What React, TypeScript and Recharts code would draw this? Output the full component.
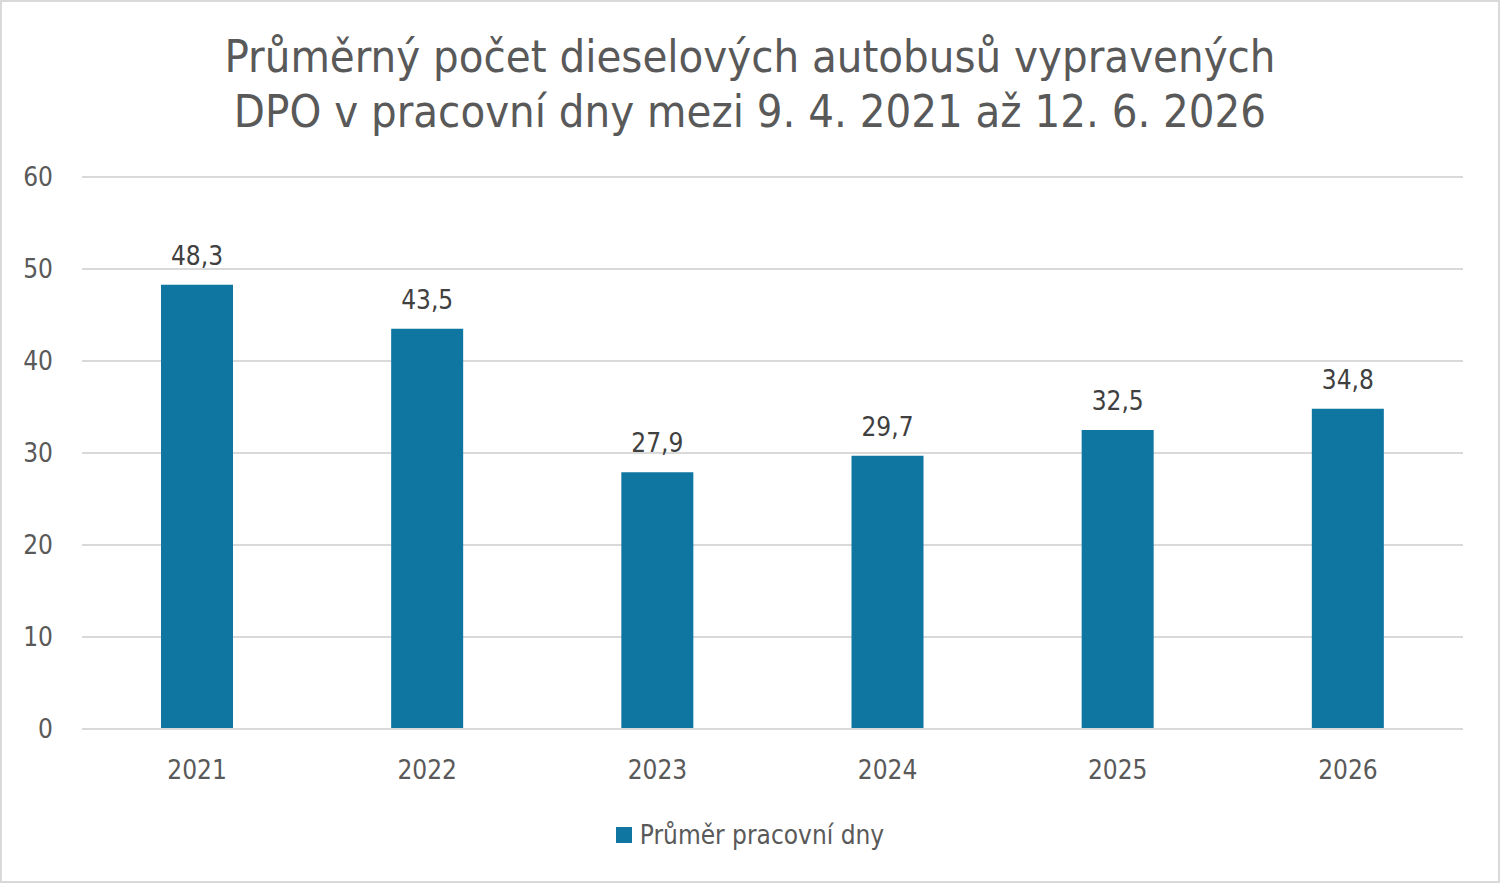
import { BarChart, Bar, XAxis, YAxis, CartesianGrid, LabelList } from "recharts";

const years = ["2021", "2022", "2023", "2024", "2025", "2026"];
const averages = [48.3, 43.5, 27.9, 29.7, 32.5, 34.8];
const yTicks = [0, 10, 20, 30, 40, 50, 60];

const FONT = "'DejaVu Sans Condensed', 'DejaVu Sans', sans-serif";
const BAR_COLOR = "#0e76a1";
const TEXT = "#595959";

const data = years.map((year, i) => ({ year, value: averages[i] }));

export default function App() {
  return (
    <div
      style={{
        position: "absolute",
        left: 0,
        top: 0,
        width: 1500,
        height: 883,
        boxSizing: "border-box",
        border: "2px solid #d9d9d9",
        background: "#fff",
        fontFamily: FONT,
      }}
    >
      <div
        style={{
          position: "absolute",
          top: 27,
          left: 0,
          width: 1496,
          textAlign: "center",
          fontSize: 45,
          lineHeight: "55px",
          color: TEXT,
        }}
      >
        Průměrný počet dieselových autobusů vypravených
        <br />
        DPO v pracovní dny mezi 9. 4. 2021 až 12. 6. 2026
      </div>
      <div style={{ position: "absolute", left: -2, top: -2 }}>
        <BarChart
          width={1500}
          height={883}
          data={data}
          margin={{ top: 177, right: 37, bottom: 94, left: 0 }}
        >
          <CartesianGrid vertical={false} stroke="#d9d9d9" strokeWidth={2} />
          <XAxis
            dataKey="year"
            height={60}
            tickSize={0}
            tickMargin={32}
            axisLine={{ stroke: "#d9d9d9", strokeWidth: 2 }}
            tick={{ fontSize: 26, fill: TEXT, fontFamily: FONT }}
          />
          <YAxis
            width={82}
            domain={[0, 60]}
            ticks={yTicks}
            axisLine={false}
            tickLine={false}
            tickSize={0}
            tickMargin={29}
            tick={{ fontSize: 26, fill: TEXT, fontFamily: FONT }}
          />
          <Bar dataKey="value" fill={BAR_COLOR} barSize={72} isAnimationActive={false}>
            <LabelList
              dataKey="value"
              position="top"
              offset={20}
              formatter={(v: number) => v.toFixed(1).replace(".", ",")}
              style={{ fontSize: 26, fill: "#404040", fontFamily: FONT }}
            />
          </Bar>
        </BarChart>
      </div>
      <div
        style={{
          position: "absolute",
          top: 818,
          left: 0,
          width: 1496,
          display: "flex",
          justifyContent: "center",
          alignItems: "center",
          fontSize: 26,
          color: TEXT,
        }}
      >
        <span
          style={{
            display: "inline-block",
            width: 16,
            height: 16,
            background: BAR_COLOR,
            marginRight: 8,
          }}
        />
        Průměr pracovní dny
      </div>
    </div>
  );
}
